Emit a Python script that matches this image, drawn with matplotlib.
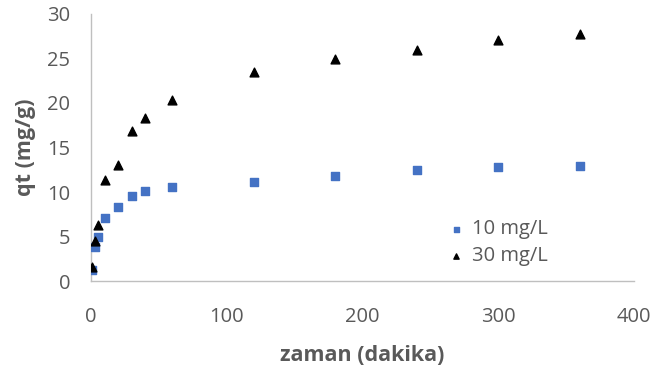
import matplotlib
matplotlib.use('Agg')
import matplotlib.pyplot as plt

time_min = [1, 3, 5, 10, 20, 30, 40, 60, 120, 180, 240, 300, 360]
qt_10 = [1.2, 3.8, 5.0, 7.1, 8.3, 9.6, 10.15, 10.55, 11.1, 11.85, 12.45, 12.85, 12.95]
qt_30 = [1.6, 4.5, 6.3, 11.3, 13.0, 16.9, 18.3, 20.3, 23.5, 24.9, 26.0, 27.1, 27.8]

plt.rcParams['font.family'] = ['Open Sans', 'DejaVu Sans']
gray = '#595959'

fig = plt.figure(figsize=(6.61, 3.72), dpi=100)
ax = fig.add_axes([0.1377, 0.2446, 0.8213, 0.7178])

ax.scatter(time_min, qt_10, marker='s', s=36, color='#4472C4', label='10 mg/L', zorder=3)
ax.scatter(time_min, qt_30, marker='^', s=40, color='black', label='30 mg/L', zorder=3)

ax.set_xlim(0, 400)
ax.set_ylim(0, 30)
ax.set_xticks([0, 100, 200, 300, 400])
ax.set_yticks([0, 5, 10, 15, 20, 25, 30])

for s in ['top', 'right']:
    ax.spines[s].set_visible(False)
for s in ['left', 'bottom']:
    ax.spines[s].set_color('#BFBFBF')
    ax.spines[s].set_linewidth(1.0)

ax.tick_params(length=0, labelsize=14.5, colors=gray)
ax.tick_params(axis='x', pad=19)
ax.tick_params(axis='y', pad=15)
ax.set_xlabel('zaman (dakika)', fontsize=15.5, fontweight='bold', color=gray, labelpad=13)
ax.set_ylabel('qt (mg/g)', fontsize=15.5, fontweight='bold', color=gray, labelpad=8)

leg = ax.legend(loc='upper left', bbox_to_anchor=(0.62, 0.30), frameon=False,
                fontsize=14.5, handlelength=1.0, handletextpad=0.3,
                markerscale=0.6, labelspacing=0.35)
for t in leg.get_texts():
    t.set_color(gray)

fig.savefig('out.png', dpi=100)
